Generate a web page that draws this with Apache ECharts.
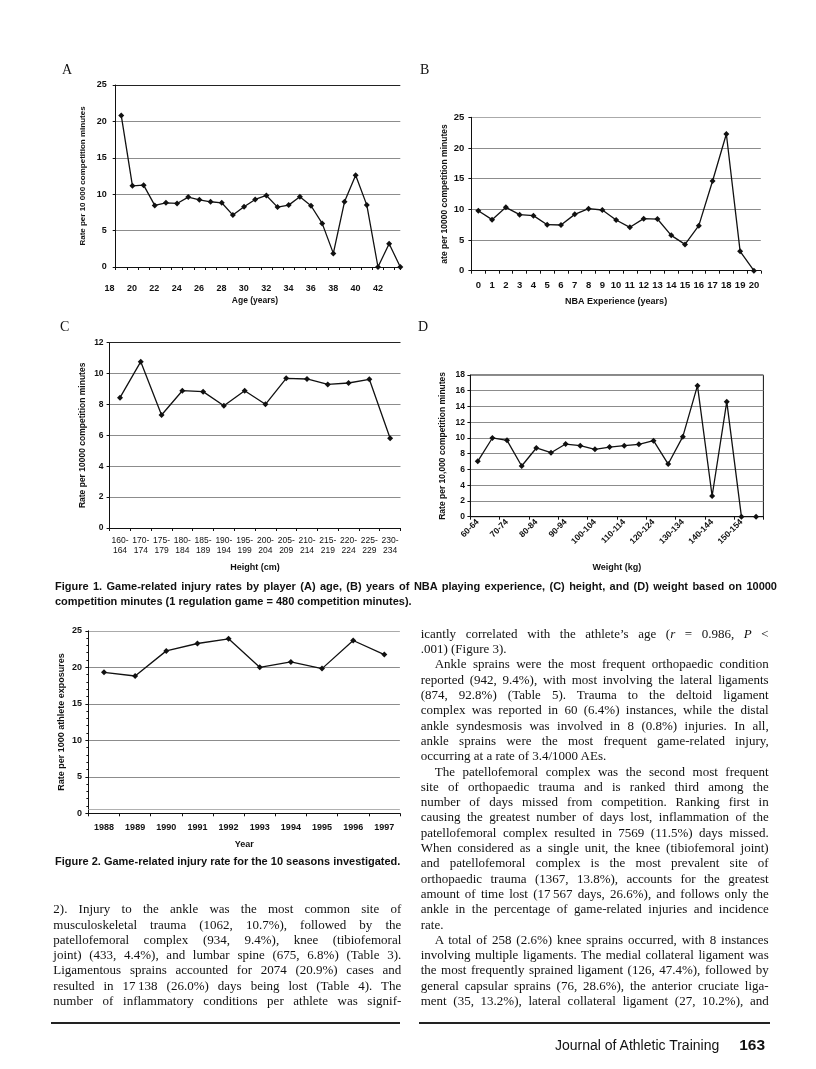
<!DOCTYPE html>
<html><head><meta charset="utf-8">
<script src="https://cdn.jsdelivr.net/npm/echarts@6/dist/echarts.min.js"></script>
<style>
body{margin:0;background:#fff;}
#page{position:relative;width:816px;height:1069px;overflow:hidden;background:#fff;}
#chart{position:absolute;left:0;top:0;width:816px;height:1069px;}
.t{position:absolute;color:#111;white-space:normal;}
.body{font-family:"Liberation Serif","Times New Roman",serif;font-size:13px;line-height:15px;width:348px;text-align:justify;text-align-last:justify;}
.body.end{text-align-last:left;}
.cap{font-family:"Liberation Sans",Arial,sans-serif;font-weight:bold;font-size:11px;line-height:13px;}
.letter{font-family:"Liberation Serif","Times New Roman",serif;font-size:14px;line-height:16px;}
.rule{position:absolute;height:2px;background:#222;}
</style></head><body>
<div id="page"><div id="chart"></div></div>
<script>
// ---- data ----
const ageYears = [19,20,21,22,23,24,25,26,27,28,29,30,31,32,33,34,35,36,37,38,39,40,41,42,43,44];
const ageRates = [20.8,11.15,11.24,8.46,8.82,8.73,9.6,9.23,8.96,8.82,7.13,8.27,9.28,9.83,8.23,8.5,9.64,8.41,5.99,1.87,8.96,12.6,8.5,0,3.2,0];
const expYears = ['0','1','2','3','4','5','6','7','8','9','10','11','12','13','14','15','16','17','18','19','20'];
const expRates = [9.78,8.32,10.33,9.13,8.97,7.5,7.45,9.18,10.1,9.89,8.26,7.07,8.48,8.42,5.76,4.29,7.34,14.62,22.28,3.15,0];
const heightCats = ['160-164','170-174','175-179','180-184','185-189','190-194','195-199','200-204','205-209','210-214','215-219','220-224','225-229','230-234'];
const heightRates = [8.44,10.77,7.32,8.89,8.83,7.92,8.89,8.01,9.69,9.65,9.3,9.39,9.63,5.81];
const weightCats = ['60-64','65-69','70-74','75-79','80-84','85-89','90-94','95-99','100-104','105-109','110-114','115-119','120-124','125-129','130-134','135-139','140-144','145-149','150-154','155-159'];
const weightRates = [7.03,10.0,9.7,6.44,8.73,8.13,9.23,9.02,8.56,8.85,9.02,9.19,9.66,6.69,10.17,16.65,2.63,14.61,0,0];
const seasons = ['1988','1989','1990','1991','1992','1993','1994','1995','1996','1997'];
const seasonRates = [19.31,18.81,22.25,23.26,23.9,20.0,20.73,19.82,23.67,21.74];

// ---- page text ----
const leftLines = [
 ['2). Injury to the ankle was the most common site of',0,0],
 ['musculoskeletal trauma (1062, 10.7%), followed by the',0,0],
 ['patellofemoral complex (934, 9.4%), knee (tibiofemoral',0,0],
 ['joint) (433, 4.4%), and lumbar spine (675, 6.8%) (Table 3).',0,0],
 ['Ligamentous sprains accounted for 2074 (20.9%) cases and',0,0],
 ['resulted in 17\u2009138 (26.0%) days being lost (Table 4). The',0,0],
 ['number of inflammatory conditions per athlete was signif-',0,0]
];
const rightLines = [
 ['icantly correlated with the athlete\u2019s age (<i>r</i> = 0.986, <i>P</i> &lt;',0,0],
 ['.001) (Figure 3).',0,1],
 ['Ankle sprains were the most frequent orthopaedic condition',1,0],
 ['reported (942, 9.4%), with most involving the lateral ligaments',0,0],
 ['(874, 92.8%) (Table 5). Trauma to the deltoid ligament',0,0],
 ['complex was reported in 60 (6.4%) instances, while the distal',0,0],
 ['ankle syndesmosis was involved in 8 (0.8%) injuries. In all,',0,0],
 ['ankle sprains were the most frequent game-related injury,',0,0],
 ['occurring at a rate of 3.4/1000 AEs.',0,1],
 ['The patellofemoral complex was the second most frequent',1,0],
 ['site of orthopaedic trauma and is ranked third among the',0,0],
 ['number of days missed from competition. Ranking first in',0,0],
 ['causing the greatest number of days lost, inflammation of the',0,0],
 ['patellofemoral complex resulted in 7569 (11.5%) days missed.',0,0],
 ['When considered as a single unit, the knee (tibiofemoral joint)',0,0],
 ['and patellofemoral complex is the most prevalent site of',0,0],
 ['orthopaedic trauma (1367, 13.8%), accounts for the greatest',0,0],
 ['amount of time lost (17\u2009567 days, 26.6%), and follows only the',0,0],
 ['ankle in the percentage of game-related injuries and incidence',0,0],
 ['rate.',0,1],
 ['A total of 258 (2.6%) knee sprains occurred, with 8 instances',1,0],
 ['involving multiple ligaments. The medial collateral ligament was',0,0],
 ['the most frequently sprained ligament (126, 47.4%), followed by',0,0],
 ['general capsular sprains (76, 28.6%), the anterior cruciate liga-',0,0],
 ['ment (35, 13.2%), lateral collateral ligament (27, 10.2%), and',0,0]
];

const page = document.getElementById('page');
function addDiv(cls, html, css){
  const d = document.createElement('div');
  d.className = 't ' + cls; d.innerHTML = html;
  Object.assign(d.style, css); page.appendChild(d); return d;
}
const LH = 15.3;
function addColumn(lines, left, lastCenter){
  const n = lines.length;
  lines.forEach((ln, i) => {
    const c = lastCenter - (n-1-i)*LH;
    addDiv('body' + (ln[2] ? ' end' : ''), ln[0], {
      left: (left + (ln[1] ? 14 : 0)) + 'px', top: (c - 7.5) + 'px',
      width: (348 - (ln[1] ? 14 : 0)) + 'px'});
  });
}
addColumn(leftLines, 53.3, 1000.5);
addColumn(rightLines, 420.7, 1000.5);

addDiv('letter','A',{left:'62px',top:'62px'});
addDiv('letter','B',{left:'420px',top:'62px'});
addDiv('letter','C',{left:'60px',top:'319px'});
addDiv('letter','D',{left:'418px',top:'319px'});

addDiv('cap','Figure 1. Game-related injury rates by player (A) age, (B) years of NBA playing experience, (C) height, and (D) weight based on 10000',
  {left:'55px',top:'580px',width:'722px',textAlign:'justify',textAlignLast:'justify'});
addDiv('cap','competition minutes (1 regulation game = 480 competition minutes).',{left:'55px',top:'595px'});
addDiv('cap','Figure 2. Game-related injury rate for the 10 seasons investigated.',{left:'55px',top:'855px'});

const r1 = document.createElement('div'); r1.className='rule';
Object.assign(r1.style,{left:'51px',top:'1022px',width:'349px'}); page.appendChild(r1);
const r2 = document.createElement('div'); r2.className='rule';
Object.assign(r2.style,{left:'419px',top:'1022px',width:'351px'}); page.appendChild(r2);
addDiv('', '<span style="font-family:\'Liberation Sans\',Arial,sans-serif;font-size:14px;">Journal of Athletic Training</span><span style="font-family:\'Liberation Sans\',Arial,sans-serif;font-size:15.5px;font-weight:bold;margin-left:20px;">163</span>',
  {left:'555px',top:'1036px',lineHeight:'18px'});

// ---- chart ----
const FONT = 'Liberation Sans';
const INK = '#111';
const GC = '#8c8c8c';
function nameStyle(size){ return {color:INK, fontFamily:FONT, fontWeight:'bold', fontSize:size}; }
function lab(size, extra){ return Object.assign({color:INK, fontFamily:FONT, fontWeight:'bold', fontSize:size}, extra||{}); }
const axLine = {show:true, lineStyle:{color:INK, width:1}};
const tick = {show:true, length:3, inside:false, lineStyle:{color:INK, width:1}};
function split(colors){ return {show:true, lineStyle:{color:colors, width:1}}; }
function yVal(gi, max, interval, name, nameGap, nameSize, labSize, labMargin, colors, extra){
  return Object.assign({type:'value', gridIndex:gi, min:0, max:max, interval:interval,
    name:name, nameLocation:'middle', nameGap:nameGap, nameTextStyle:nameStyle(nameSize),
    axisLine:axLine, axisTick:tick, axisLabel:lab(labSize,{margin:labMargin}),
    splitLine:split(colors)}, extra||{});
}
function lineSeries(xi, data){
  return {type:'line', xAxisIndex:xi, yAxisIndex:xi, data:data, symbol:'diamond', symbolSize:6,
    lineStyle:{color:INK, width:1.3}, itemStyle:{color:INK}, emphasis:{disabled:true}, z:5};
}

const option = {
  animation:false,
  backgroundColor:'transparent',
  grid:[
    {left:115.7, top:85, width:284.6, height:182},
    {left:109.6, top:85, width:290.7, height:182},
    {left:471.4, top:117.3, width:289.4, height:153.4},
    {left:109.6, top:342.7, width:290.9, height:185.3},
    {left:470.4, top:375, width:293, height:141.7, show:true, borderColor:INK, borderWidth:1},
    {left:88.4, top:630.8, width:311.5, height:182.5}
  ],
  xAxis:[
    {type:'value', gridIndex:0, min:18.5, max:44, interval:1, axisLine:axLine, axisTick:tick,
     axisLabel:{show:false}, splitLine:{show:false}},
    {type:'value', gridIndex:1, min:18, max:44, interval:2,
     name:'Age (years)', nameLocation:'middle', nameGap:29.5, nameTextStyle:nameStyle(8.5),
     axisLine:{show:false}, axisTick:{show:false}, splitLine:{show:false},
     axisLabel:lab(9,{margin:17, formatter:v => v > 42 ? '' : String(v)})},
    {type:'category', gridIndex:2, data:expYears, boundaryGap:true,
     name:'NBA Experience (years)', nameLocation:'middle', nameGap:26, nameTextStyle:nameStyle(9),
     axisLine:axLine, axisTick:tick, splitLine:{show:false}, axisLabel:lab(9.5,{margin:10, interval:0})},
    {type:'category', gridIndex:3, data:heightCats, boundaryGap:true,
     name:'Height (cm)', nameLocation:'middle', nameGap:35.5, nameTextStyle:nameStyle(9),
     axisLine:axLine, axisTick:tick, splitLine:{show:false},
     axisLabel:lab(8.5,{margin:8, interval:0, fontWeight:'normal', lineHeight:10, formatter:v => v.replace('-', '-\n')})},
    {type:'category', gridIndex:4, data:weightCats, boundaryGap:true,
     name:'Weight (kg)', nameLocation:'middle', nameGap:46.5, nameTextStyle:nameStyle(9),
     axisLine:axLine, axisTick:tick, splitLine:{show:false},
     axisLabel:lab(8.5,{margin:4, interval:1, rotate:45})},
    {type:'category', gridIndex:5, data:seasons, boundaryGap:true,
     name:'Year', nameLocation:'middle', nameGap:26.5, nameTextStyle:nameStyle(9),
     axisLine:axLine, axisTick:tick, splitLine:{show:false}, axisLabel:lab(9,{margin:10, interval:0})}
  ],
  yAxis:[
    yVal(0, 25, 5, 'Rate per 10 000 competition minutes', 28.5, 8, 9, 9, [GC,GC,GC,GC,GC,'#222']),
    {type:'value', gridIndex:1, show:false, min:0, max:1},
    yVal(2, 25, 5, 'ate per 10000 competition minutes', 22, 8.5, 9.5, 7, [GC,GC,GC,GC,GC,'#aaa']),
    yVal(3, 12, 2, 'Rate per 10000 competition minutes', 22, 8.5, 8.5, 6, [GC,GC,GC,GC,GC,GC,'#222']),
    yVal(4, 18, 2, 'Rate per 10,000 competition minutes', 23.5, 8.5, 8.5, 5.5, [GC]),
    yVal(5, 25, 5, 'Rate per 1000 athlete exposures', 22, 9, 9, 6.5, [GC,GC,GC,GC,GC,'#aaa'],
      {minorTick:{show:true, splitNumber:5, length:2, lineStyle:{color:INK, width:1}}})
  ],
  series:[
    lineSeries(0, ageYears.map((a,i) => [a, ageRates[i]])),
    lineSeries(2, expRates),
    lineSeries(3, heightRates),
    lineSeries(4, weightRates),
    Object.assign(lineSeries(5, seasonRates), {
      markLine:{silent:true, symbol:'none', label:{show:false}, animation:false,
        lineStyle:{color:'#b0b0b0', type:'solid', width:1}, data:[{yAxis:0.55}]}})
  ]
};
const chart = echarts.init(document.getElementById('chart'), null, {renderer:'canvas'});
chart.setOption(option);
</script>
</body></html>
